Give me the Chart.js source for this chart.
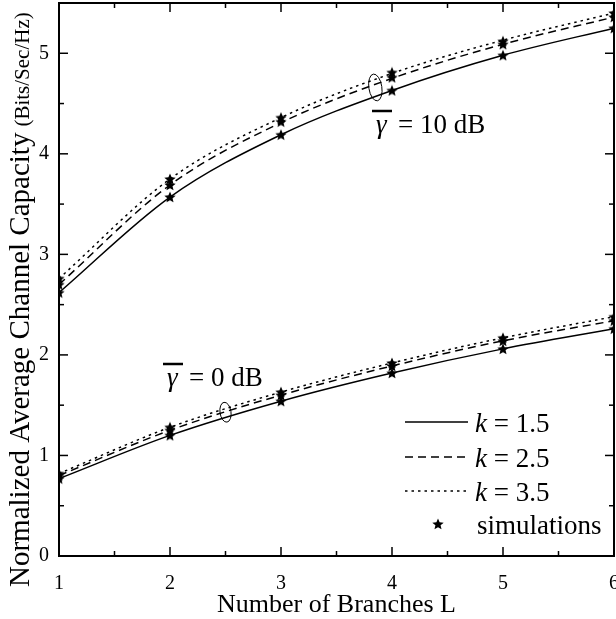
<!DOCTYPE html>
<html><head><meta charset="utf-8">
<script src="https://cdn.jsdelivr.net/npm/chart.js@4"></script>
<style>html,body{margin:0;padding:0;background:#fff;}</style>
</head><body>
<canvas id="c" width="616" height="619"></canvas>
<script>
// ---- data ----
const branches = [1, 2, 3, 4, 5, 6];
// average SNR = 10 dB
const cap10_k15 = [2.62, 3.57, 4.19, 4.63, 4.98, 5.25];
const cap10_k25 = [2.70, 3.69, 4.31, 4.75, 5.09, 5.36];
const cap10_k35 = [2.76, 3.75, 4.36, 4.80, 5.13, 5.40];
// average SNR = 0 dB
const cap0_k15 = [0.77, 1.20, 1.54, 1.82, 2.06, 2.26];
const cap0_k25 = [0.80, 1.25, 1.60, 1.89, 2.14, 2.34];
const cap0_k35 = [0.82, 1.28, 1.63, 1.92, 2.17, 2.38];
// simulation results
const sim10_k15 = [2.62, 3.57, 4.19, 4.63, 4.98, 5.25];
const sim10_k25 = [2.70, 3.69, 4.32, 4.76, 5.09, 5.36];
const sim10_k35 = [2.76, 3.75, 4.36, 4.81, 5.12, 5.40];
const sim0_k15 = [0.77, 1.20, 1.54, 1.82, 2.06, 2.26];
const sim0_k25 = [0.80, 1.25, 1.60, 1.89, 2.14, 2.34];
const sim0_k35 = [0.82, 1.28, 1.63, 1.92, 2.17, 2.38];
const xTickValues = [1, 2, 3, 4, 5, 6];
const yTickValues = [0, 1, 2, 3, 4, 5];
const legendLabels = ['k = 1.5', 'k = 2.5', 'k = 3.5', 'simulations'];
const xTitle = 'Number of Branches L';
const yTitleMain = 'Normalized Average Channel Capacity';
const yTitleUnit = '(Bits/Sec/Hz)';

const SERIF = "'Liberation Serif','Times New Roman',serif";

// filled star marker
function makeStar(size){
  const c = document.createElement('canvas');
  c.width = size; c.height = size;
  const g = c.getContext('2d');
  const cx = size/2, cy = size/2 + 0.5, R = size/2, r = R*0.45;
  g.beginPath();
  for (let i=0;i<10;i++){
    const ang = -Math.PI/2 + i*Math.PI/5;
    const rad = i%2===0 ? R : r;
    const px = cx + rad*Math.cos(ang), py = cy + rad*Math.sin(ang);
    if (i===0) g.moveTo(px,py); else g.lineTo(px,py);
  }
  g.closePath(); g.fillStyle = '#000'; g.fill();
  return c;
}
const starImg = makeStar(12);

const pts = arr => branches.map((b,i)=>({x:b, y:arr[i]}));
const styles = [
  {dash: [], w: 1.5},
  {dash: [8, 5], w: 1.5},
  {dash: [2.5, 4], w: 1.5}
];
function lineDs(label, arr, s){
  return {label, data: pts(arr), borderColor:'#000', borderWidth:s.w, borderDash:s.dash,
    pointRadius:0, fill:false, cubicInterpolationMode:'monotone', order:1};
}
const simData = [sim10_k15, sim10_k25, sim10_k35, sim0_k15, sim0_k25, sim0_k35].flatMap(pts);

const datasets = [
  lineDs(legendLabels[0], cap10_k15, styles[0]),
  lineDs(legendLabels[1], cap10_k25, styles[1]),
  lineDs(legendLabels[2], cap10_k35, styles[2]),
  lineDs(legendLabels[0], cap0_k15, styles[0]),
  lineDs(legendLabels[1], cap0_k25, styles[1]),
  lineDs(legendLabels[2], cap0_k35, styles[2]),
  {label: legendLabels[3], data: simData, showLine:false, pointStyle: starImg, pointRadius:6,
   borderColor:'#000', backgroundColor:'#000', order:0}
];

function seg(ctx,x1,y1,x2,y2){ctx.beginPath();ctx.moveTo(x1,y1);ctx.lineTo(x2,y2);ctx.stroke();}

const decor = {
  id:'decor',
  afterDraw(chart){
    const {ctx, chartArea:a, scales:{x, y}} = chart;
    ctx.save();
    ctx.strokeStyle = '#000'; ctx.fillStyle = '#000'; ctx.setLineDash([]);
    // frame
    ctx.lineWidth = 2;
    ctx.strokeRect(a.left, a.top, a.right-a.left, a.bottom-a.top);
    // inward ticks, all four sides
    ctx.lineWidth = 1.5;
    for (let v = x.min; v <= x.max + 1e-9; v += 0.5){
      const px = x.getPixelForValue(v);
      const L = Number.isInteger(v) ? 9 : 5;
      seg(ctx, px, a.bottom, px, a.bottom - L);
      seg(ctx, px, a.top, px, a.top + L);
    }
    for (let v = y.min; v <= y.max + 1e-9; v += 0.5){
      const py = y.getPixelForValue(v);
      const L = Number.isInteger(v) ? 9 : 5;
      seg(ctx, a.left, py, a.left + L, py);
      seg(ctx, a.right, py, a.right - L, py);
    }
    // x title
    ctx.font = '26px ' + SERIF;
    ctx.textAlign = 'center'; ctx.textBaseline = 'alphabetic';
    ctx.fillText(xTitle, (a.left + a.right)/2, 612);
    // y title
    ctx.save();
    ctx.translate(29, 587);
    ctx.rotate(-Math.PI/2);
    ctx.textAlign = 'left';
    ctx.font = '29px ' + SERIF;
    ctx.fillText(yTitleMain, 0, 0);
    const w = ctx.measureText(yTitleMain).width;
    ctx.font = '21px ' + SERIF;
    ctx.fillText(yTitleUnit, w + 6, 0);
    ctx.restore();
    // legend
    const rows = [422, 457, 491, 524];
    ctx.textAlign = 'left';
    for (let i = 0; i < 3; i++){
      const ds = chart.data.datasets[i];
      ctx.lineWidth = ds.borderWidth; ctx.setLineDash(ds.borderDash);
      seg(ctx, 405, rows[i], 468, rows[i]);
      ctx.setLineDash([]);
      const k = legendLabels[i].slice(0,1), rest = legendLabels[i].slice(1);
      ctx.font = 'italic 27px ' + SERIF;
      ctx.fillText(k, 475, rows[i] + 10);
      const kw = ctx.measureText(k).width;
      ctx.font = '27px ' + SERIF;
      ctx.fillText(rest, 475 + kw, rows[i] + 10);
    }
    ctx.drawImage(starImg, 438 - 6, rows[3] - 6);
    ctx.font = '27px ' + SERIF;
    ctx.fillText(legendLabels[3], 477, rows[3] + 10);
    // gamma labels
    function gammaLabel(ox, base, text){
      ctx.lineWidth = 2.5;
      seg(ctx, ox - 4, base - 22, ox + 16, base - 22);
      ctx.font = 'italic 27px ' + SERIF;
      ctx.fillText('\u03B3', ox, base);
      ctx.font = '27px ' + SERIF;
      ctx.fillText(text, ox + 22, base);
    }
    gammaLabel(376, 133, '= 10 dB');
    gammaLabel(167, 386, '= 0 dB');
    // ellipses marking curve groups
    ctx.lineWidth = 1;
    ctx.beginPath();
    ctx.ellipse(x.getPixelForValue(3.85), y.getPixelForValue(4.66), 6.5, 13.5, -0.15, 0, Math.PI*2);
    ctx.stroke();
    ctx.beginPath();
    ctx.ellipse(x.getPixelForValue(2.5), y.getPixelForValue(1.43), 5.5, 10, -0.15, 0, Math.PI*2);
    ctx.stroke();
    ctx.restore();
  }
};

function zeroPad(s){ s.paddingLeft = 0; s.paddingRight = 0; s.paddingTop = 0; s.paddingBottom = 0; }

new Chart(document.getElementById('c'), {
  type: 'line',
  data: {datasets},
  options: {
    responsive: false, animation: false, devicePixelRatio: 1,
    layout: {padding: {left: 0, right: 2, top: 3, bottom: 0}, autoPadding: false},
    plugins: {legend: {display: false}, tooltip: {enabled: false}},
    scales: {
      x: {type: 'linear', min: 1, max: 6,
        grid: {display: false, drawTicks: false}, border: {display: false},
        afterBuildTicks: s => { s.ticks = xTickValues.map(v => ({value: v})); },
        afterFit: s => { s.height = 63; zeroPad(s); },
        ticks: {color: '#000', padding: 16, font: {family: SERIF, size: 20}, maxRotation: 0}
      },
      y: {type: 'linear', min: 0, max: 5.5,
        grid: {display: false, drawTicks: false}, border: {display: false},
        afterBuildTicks: s => { s.ticks = yTickValues.map(v => ({value: v})); },
        afterFit: s => { s.width = 59; zeroPad(s); },
        ticks: {color: '#000', padding: 10, font: {family: SERIF, size: 20}}
      }
    }
  },
  plugins: [decor]
});
</script>
</body></html>
